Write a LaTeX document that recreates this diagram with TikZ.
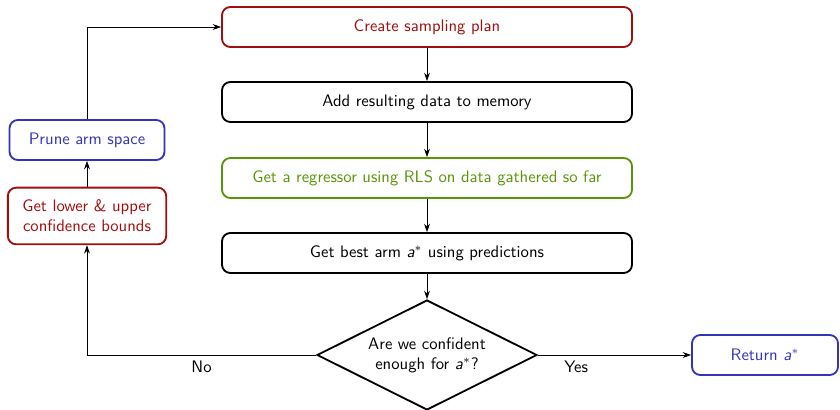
\documentclass[tikz,border=0pt]{standalone}
\usepackage{amsmath}
\usepackage{tikz}
\usetikzlibrary{arrows.meta,shapes.geometric}
\renewcommand{\familydefault}{\sfdefault}
\definecolor{planred}{RGB}{160,14,14}
\definecolor{fitgreen}{RGB}{88,150,8}
\definecolor{armblue}{RGB}{52,52,182}
\newcommand{\astar}{\textit{a}$^{*}$}

\begin{document}
\begin{tikzpicture}[>={Stealth[length=5pt,width=3.5pt]},x={(0.6pt,0)},y={(0,-0.6pt)},
  stepbox/.style={draw,rounded corners=5pt,line width=1.1pt,minimum width=246pt,minimum height=24pt,align=center},
  sidebox/.style={draw,rounded corners=5pt,line width=1.1pt,minimum height=24pt,align=center,inner xsep=5pt},
  choice/.style={draw,diamond,aspect=2,line width=1.1pt,minimum width=132pt,minimum height=66pt,inner sep=0pt,align=center}]
  \useasboundingbox (0,0) rectangle (840,410);
  % main column
  \node[stepbox,planred] (plan) at (427,27) {Create sampling plan};
  \node[stepbox] (memory) at (427,102) {Add resulting data to memory};
  \node[stepbox,fitgreen] (regress) at (427,178) {Get a regressor using RLS on data gathered so far};
  \node[stepbox] (best) at (427,253) {Get best arm \astar{} using predictions};
  \node[choice] (conf) at (427,355) {Are we confident\\enough for \astar?};
  % side boxes
  \node[sidebox,armblue,minimum width=146*0.6pt] (ret) at (765,355) {Return \astar};
  \node[sidebox,planred,minimum width=95pt,minimum height=34pt] (bounds) at (87,216) {Get lower \& upper\\confidence bounds};
  \node[sidebox,armblue,minimum width=93pt] (prune) at (87,140) {Prune arm space};
  % arrows
  \draw[->] (plan) -- (memory);
  \draw[->] (memory) -- (regress);
  \draw[->] (regress) -- (best);
  \draw[->] (best) -- (conf);
  \draw[->] (conf.east) -- node[near start,below] {Yes} (ret.west);
  \draw[->] (conf.west) -| node[near start,below] {No} (bounds.south);
  \draw[->] (bounds) -- (prune);
  \draw[->] (prune.north) |- (plan.west);
\end{tikzpicture}
\end{document}
